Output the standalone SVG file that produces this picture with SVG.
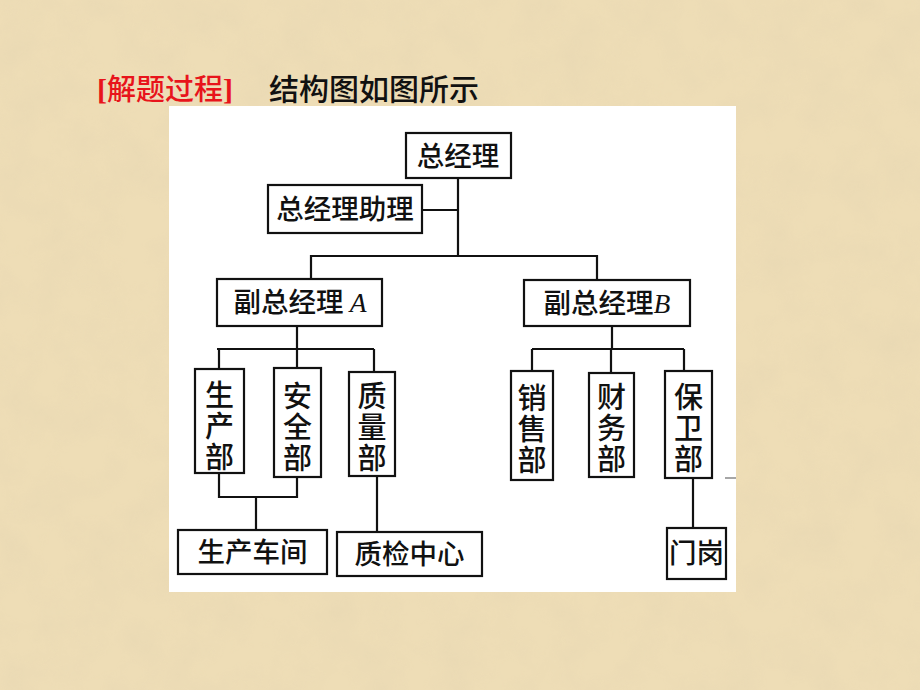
<svg xmlns="http://www.w3.org/2000/svg" width="920" height="690" viewBox="0 0 920 690">
<defs>
<filter id="tex" x="0" y="0" width="100%" height="100%">
<feTurbulence type="fractalNoise" baseFrequency="0.025" numOctaves="4" seed="3" result="n"/>
<feColorMatrix in="n" type="matrix" values="0 0 0 0 0.80  0 0 0 0 0.68  0 0 0 0 0.45  0 0 0 1.6 -0.55"/>
</filter>
<style>
.box{fill:#fff;stroke:#111;stroke-width:2.2}
.ln{stroke:#111;stroke-width:2.2;fill:none}
.t{font-family:"Noto Sans CJK SC","Liberation Sans",sans-serif;font-size:27.5px;font-weight:500;fill:#111;text-anchor:middle}
.v{font-family:"Noto Sans CJK SC","Liberation Sans",sans-serif;font-size:29px;font-weight:500;fill:#111;text-anchor:middle;writing-mode:tb;letter-spacing:2px}
.it{font-family:"Liberation Serif",serif;font-style:italic;font-weight:normal}
</style>
</defs>
<rect x="0" y="0" width="920" height="690" fill="#EEDDB6"/>
<rect x="0" y="0" width="920" height="690" filter="url(#tex)" opacity="0.6"/>
<text x="97" y="100" font-family="Liberation Serif,'Noto Sans CJK SC',serif" font-size="30" font-weight="bold" fill="#E8141B">[<tspan font-family="'Noto Sans CJK SC',sans-serif" font-size="29" font-weight="500">解题过程</tspan>]</text>
<text x="269" y="100" font-family="'Noto Sans CJK SC',sans-serif" font-size="30" font-weight="500" fill="#111">结构图如图所示</text>
<rect x="169" y="106" width="567" height="486" fill="#fff"/>
<g id="connectors">
<path class="ln" d="M458,178 V256 M422,210 H458 M311,279 V256 H597 V280"/>
<path class="ln" d="M297,326 V349 M217,349 H374 M219,349 V369 M297,349 V368 M374,349 V372"/>
<path class="ln" d="M612,326 V349 M532,349 H684 M532,349 V371 M611,349 V373 M684,349 V371"/>
<path class="ln" d="M219,473 V497 H297 V477 M256,497 V530"/>
<path class="ln" d="M377,476 V532"/>
<path class="ln" d="M693,478 V528"/>
<path d="M725,478 H736" stroke="#888" stroke-width="1.5"/>
</g>
<g id="n-zjl"><rect class="box" x="406" y="133" width="105" height="45"/><text class="t" x="458" y="166">总经理</text></g>
<g id="n-zjlzl"><rect class="box" x="268" y="185" width="154" height="48"/><text class="t" x="345" y="219">总经理助理</text></g>
<g id="n-fa"><rect class="box" x="217" y="279" width="165" height="47"/><text class="t" x="300" y="312">副总经理 <tspan class="it">A</tspan></text></g>
<g id="n-fb"><rect class="box" x="524" y="280" width="166" height="46"/><text class="t" x="607" y="313">副总经理<tspan class="it">B</tspan></text></g>
<g id="n-scb"><rect class="box" x="195" y="369" width="49" height="104"/><text class="v" x="219.5" y="427">生产部</text></g>
<g id="n-aqb"><rect class="box" x="274" y="368" width="47" height="109"/><text class="v" x="297.5" y="428">安全部</text></g>
<g id="n-zlb"><rect class="box" x="349" y="372" width="46" height="104"/><text class="v" x="372" y="428">质量部</text></g>
<g id="n-xsb"><rect class="box" x="511" y="371" width="42" height="109"/><text class="v" x="532" y="430">销售部</text></g>
<g id="n-cwb"><rect class="box" x="589" y="373" width="45" height="104"/><text class="v" x="611.5" y="429">财务部</text></g>
<g id="n-bwb"><rect class="box" x="665" y="371" width="47" height="107"/><text class="v" x="688.5" y="429">保卫部</text></g>
<g id="n-scjc"><rect class="box" x="178" y="530" width="149" height="44"/><text class="t" x="252.5" y="562">生产车间</text></g>
<g id="n-zjzx"><rect class="box" x="337" y="532" width="145" height="44"/><text class="t" x="409.5" y="564">质检中心</text></g>
<g id="n-mg"><rect class="box" x="667" y="528" width="59" height="51"/><text class="t" x="696.5" y="563">门岗</text></g>
</svg>
